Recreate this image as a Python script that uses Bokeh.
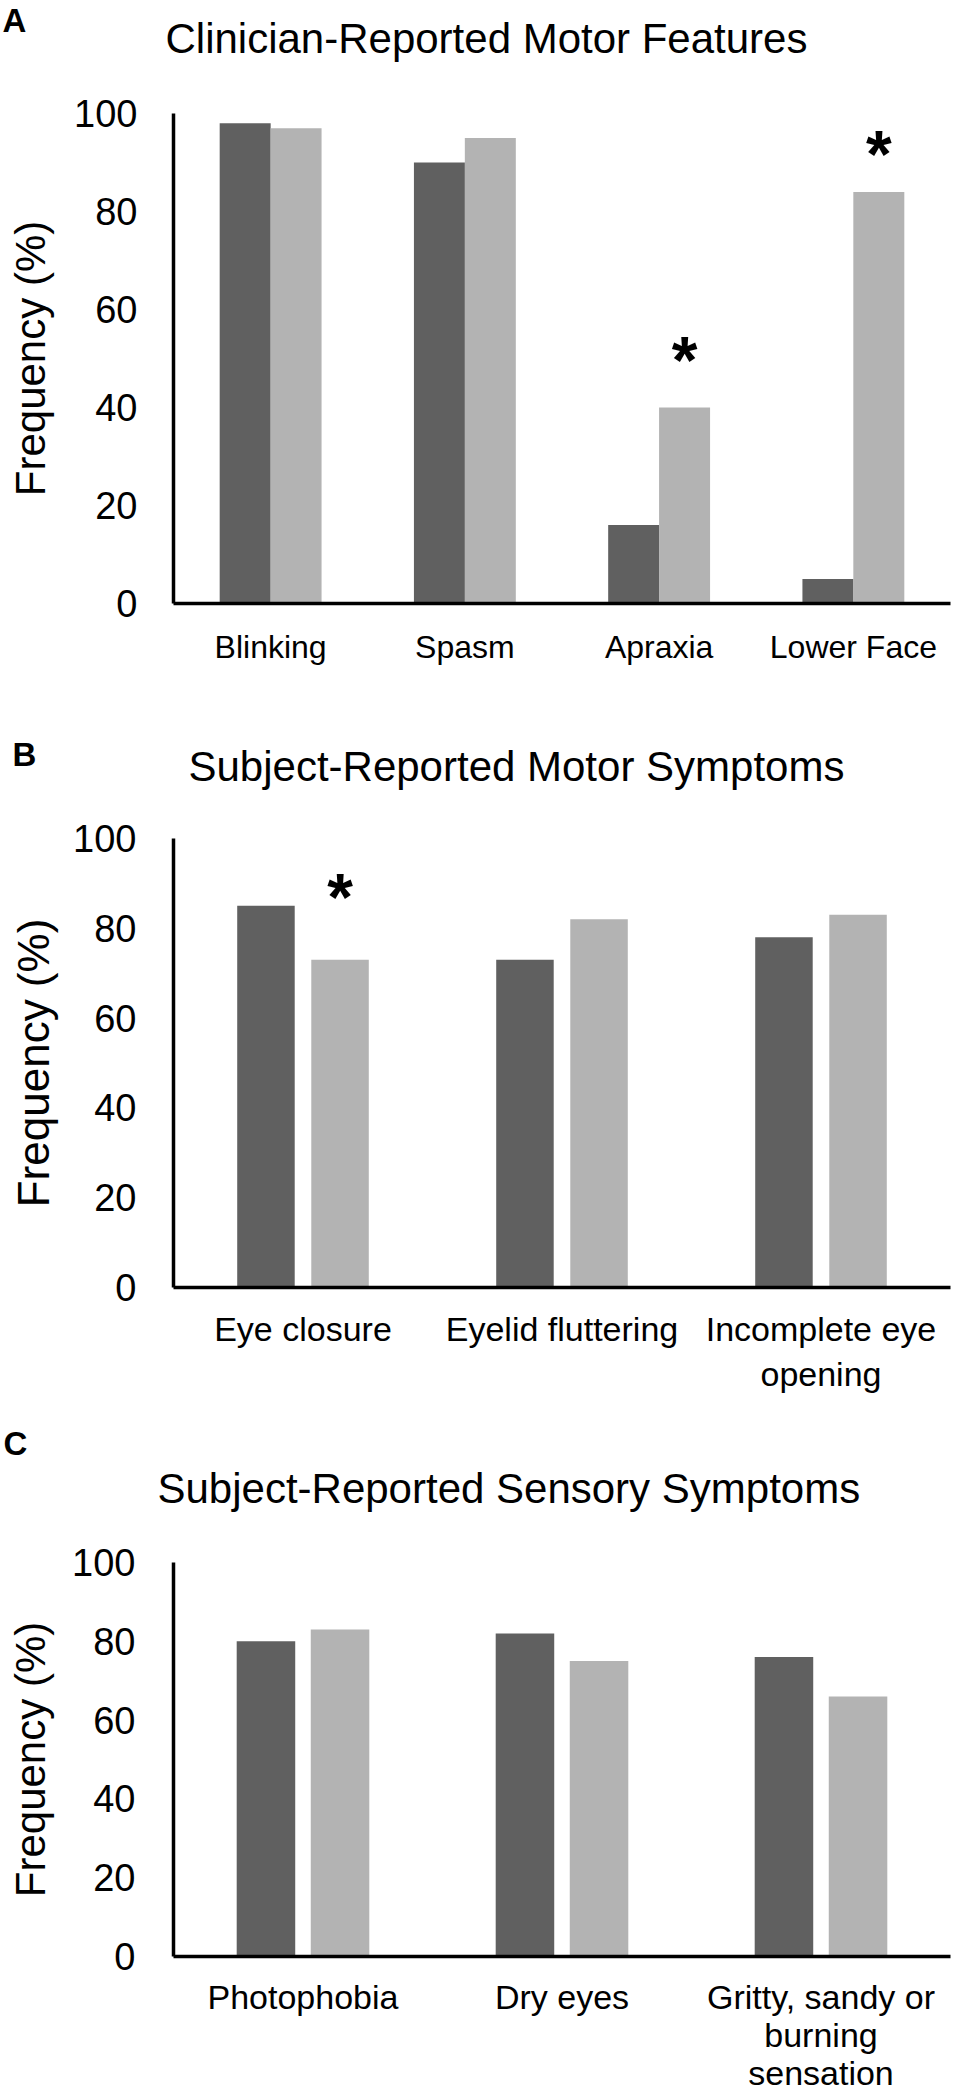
from bokeh.plotting import figure
from bokeh.models import Range1d, FactorRange, FixedTicker, ColumnDataSource, Title
from bokeh.transform import dodge
from bokeh.layouts import column
from bokeh.embed import file_html
from bokeh.resources import INLINE
from bokeh.core.properties import value

# ---------------- data ----------------
a_categories = ["Blinking", "Spasm", "Apraxia", "Lower Face"]
a_dark = [98, 90, 16, 5]
a_light = [97, 95, 40, 84]
a_sig_categories = ["Apraxia", "Lower Face"]
a_sig_y = [53, 95]

b_categories = ["Eye closure", "Eyelid fluttering", "Incomplete eye\nopening"]
b_dark = [85, 73, 78]
b_light = [73, 82, 83]
b_sig_categories = ["Eye closure"]
b_sig_y = [90.5]

c_categories = ["Photophobia", "Dry eyes", "Gritty, sandy or\nburning\nsensation"]
c_dark = [80, 82, 76]
c_light = [83, 75, 66]
c_sig_categories = []
c_sig_y = []

y_ticks = [0, 20, 40, 60, 80, 100]
titles = ["Clinician-Reported Motor Features",
          "Subject-Reported Motor Symptoms",
          "Subject-Reported Sensory Symptoms"]
letters = ["A", "B", "C"]
y_label = "Frequency (%)"

# ---------------- style ----------------
FONT = "Liberation Sans"
DARK = "#606060"
LIGHT = "#b3b3b3"
ASC, DESC = 0.905, 0.212
PAGE_W = 966


def fh(size):
    return (ASC + DESC) * size


def add_top_texts(p, cfg, letter, title):
    """Stack of titles above the frame: spacer, letter, title, spacer."""
    ls, ts, ss = cfg["lfs"], 42, 10
    hL, hT, hS = fh(ls), fh(ts), fh(ss)
    tL = cfg["l_base"] - ASC * ls
    tT = cfg["t_base"] - ASC * ts
    a_max = (1 + hL + 2 * tL) / 2
    a_min = max(1.0, 2 + hL + 2 * tL - (1 + hT + 2 * tT) / 2)
    a = (a_min + a_max) / 2
    sL = 2 * (tL - a)
    b = a + 2 + hL + sL
    sT = 2 * (tT - b)
    c = b + 2 + hT + sT
    s_top = a - 2 - hS
    s_bot = cfg["mbt"] - 1 - c - 2 - hS
    fl = cfg["mbl"]
    p.add_layout(Title(text=" ", text_font_size=f"{ss}px", standoff=s_bot), "above")
    p.add_layout(Title(text=title, align="left", vertical_align="top", standoff=sT,
                       offset=cfg["t_left"] - fl, text_font=FONT, text_font_size=f"{ts}px",
                       text_font_style="normal", text_color="black"), "above")
    p.add_layout(Title(text=letter, align="left", vertical_align="top", standoff=sL,
                       offset=cfg["l_left"] - fl, text_font=FONT, text_font_size=f"{ls}px",
                       text_font_style="bold", text_color="black"), "above")
    p.add_layout(Title(text=" ", text_font_size=f"{ss}px", standoff=s_top), "above")


def make_panel(cats, dark, light, sig_cats, sig_y, title, letter, cfg):
    p = figure(x_range=FactorRange(factors=cats), y_range=Range1d(0, 100),
               width=PAGE_W, height=cfg["height"], title=None,
               output_backend="svg", toolbar_location=None,
               min_border_left=cfg["mbl"], min_border_right=cfg["mbr"],
               min_border_top=cfg["mbt"], min_border_bottom=cfg["mbb"])
    p.outline_line_color = None
    p.xgrid.grid_line_color = None
    p.ygrid.grid_line_color = None
    p.background_fill_color = "white"
    p.border_fill_color = "white"

    src = ColumnDataSource(dict(cat=cats, dark=dark, light=light))
    p.vbar(x=dodge("cat", -cfg["off"], range=p.x_range), top="dark", width=cfg["bw"],
           source=src, fill_color=DARK, line_color=None)
    p.vbar(x=dodge("cat", cfg["off"], range=p.x_range), top="light", width=cfg["bw"],
           source=src, fill_color=LIGHT, line_color=None)

    if sig_cats:
        ssrc = ColumnDataSource(dict(cat=sig_cats, y=sig_y, t=["*"] * len(sig_cats)))
        p.text(x=dodge("cat", cfg["off"], range=p.x_range), y="y", text="t", source=ssrc,
               text_font=value(FONT), text_font_style="bold", text_font_size="66px",
               text_align="center", text_baseline="alphabetic", y_offset=16,
               text_color="black")

    for ax in (p.xaxis, p.yaxis):
        ax.axis_line_width = 3.5
        ax.axis_line_color = "black"
        ax.major_tick_line_color = None
        ax.minor_tick_line_color = None
        ax.major_tick_out = 0
        ax.major_tick_in = 0
        ax.minor_tick_out = 0
        ax.minor_tick_in = 0
        ax.major_label_text_color = "black"
        ax.major_label_text_font = FONT

    p.xaxis.major_label_text_font_size = cfg["xfs"]
    p.xaxis.major_label_text_line_height = cfg["lh"]
    p.xaxis.major_label_standoff = cfg["xso"]

    p.yaxis.ticker = FixedTicker(ticks=y_ticks)
    p.yaxis.major_label_text_font_size = "38px"
    p.yaxis.major_label_standoff = cfg["yso"]
    p.yaxis.axis_label = y_label
    p.yaxis.axis_label_text_font = FONT
    p.yaxis.axis_label_text_font_size = cfg["yfs"]
    p.yaxis.axis_label_text_font_style = "normal"
    p.yaxis.axis_label_text_color = "black"
    p.yaxis.axis_label_standoff = cfg["ylso"]

    add_top_texts(p, cfg, letter, title)
    return p


cfg_a = dict(height=700, mbl=173, mbr=PAGE_W - 950, mbt=113, mbb=97,
             bw=0.2625, off=0.131, xfs="32px", lh=1.2, xso=25, yso=36,
             yfs="42px", ylso=17, lfs=33, l_base=30, l_left=2,
             t_base=52, t_left=165)
cfg_b = dict(height=715, mbl=164, mbr=PAGE_W - 965, mbt=138, mbb=128,
             bw=0.222, off=0.143, xfs="34px", lh=1.185, xso=22, yso=37,
             yfs="44px", ylso=12, lfs=33, l_base=64, l_left=3,
             t_base=80, t_left=179)
cfg_c = dict(height=679, mbl=173, mbr=0, mbt=147, mbb=137,
             bw=0.226, off=0.143, xfs="34px", lh=1.0, xso=21, yso=38,
             yfs="42px", ylso=15, lfs=33, l_base=39, l_left=3,
             t_base=87, t_left=157)

pa = make_panel(a_categories, a_dark, a_light, a_sig_categories, a_sig_y,
                titles[0], letters[0], cfg_a)
pb = make_panel(b_categories, b_dark, b_light, b_sig_categories, b_sig_y,
                titles[1], letters[1], cfg_b)
pc = make_panel(c_categories, c_dark, c_light, c_sig_categories, c_sig_y,
                titles[2], letters[2], cfg_c)

layout = column(pa, pb, pc)
open("out.html", "w").write(file_html(layout, INLINE))
